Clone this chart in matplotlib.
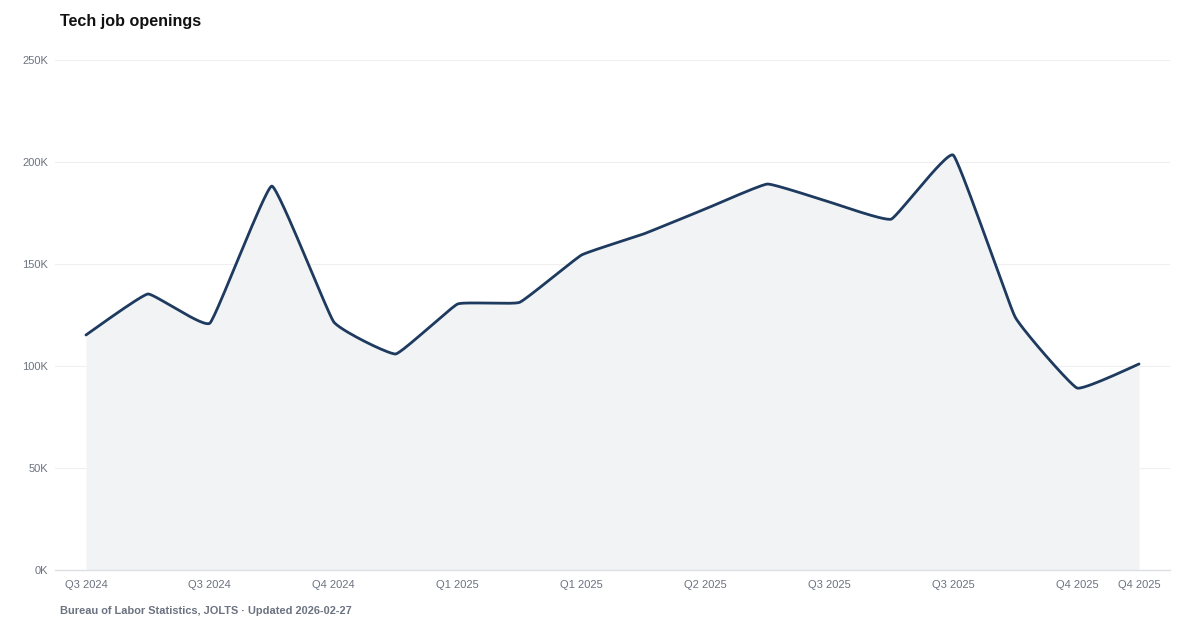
import numpy as np
import matplotlib
matplotlib.use("Agg")
import matplotlib.pyplot as plt

plt.rcParams['font.family'] = ['Liberation Sans', 'DejaVu Sans']

months = ["Jul 2024", "Aug 2024", "Sep 2024", "Oct 2024", "Nov 2024", "Dec 2024",
          "Jan 2025", "Feb 2025", "Mar 2025", "Apr 2025", "May 2025", "Jun 2025",
          "Jul 2025", "Aug 2025", "Sep 2025", "Oct 2025", "Nov 2025", "Dec 2025"]
openings = [115.2, 135.3, 121.0, 188.2, 121.6, 105.9, 130.4, 131.2, 154.4, 164.7,
            177.0, 189.2, 180.4, 172.0, 203.4, 124.0, 89.2, 101.0]  # thousands
tick_idx = [0, 2, 4, 6, 8, 10, 12, 14, 16, 17]
tick_labels = ["Q3 2024", "Q3 2024", "Q4 2024", "Q1 2025", "Q1 2025", "Q2 2025",
               "Q3 2025", "Q3 2025", "Q4 2025", "Q4 2025"]
yticks = [0, 50, 100, 150, 200, 250]


def cardinal(x, y, k=0.05, n=30):
    """Bezier spline through the points with low tension (slightly rounded corners)."""
    P = np.column_stack([np.asarray(x, float), np.asarray(y, float)])
    N = len(P)
    T = np.zeros_like(P)
    for i in range(N):
        a = P[max(i - 1, 0)]
        b = P[min(i + 1, N - 1)]
        T[i] = k * (b - a)
    xs, ys = [], []
    for i in range(N - 1):
        t = np.linspace(0, 1, n, endpoint=(i == N - 2))[:, None]
        p0 = P[i]; p1 = P[i] + T[i]; p2 = P[i + 1] - T[i + 1]; p3 = P[i + 1]
        B = (1-t)**3*p0 + 3*(1-t)**2*t*p1 + 3*(1-t)*t**2*p2 + t**3*p3
        xs.append(B[:, 0]); ys.append(B[:, 1])
    return np.concatenate(xs), np.concatenate(ys)


fig = plt.figure(figsize=(12, 6.3), dpi=100)
ax = fig.add_axes([55/1200, 60/630, 1115/1200, 510/630])

x = np.arange(len(openings))
sx, sy = cardinal(x, openings)
ax.fill_between(sx, 0, sy, color="#f1f3f5", lw=0, zorder=1)
ax.plot(sx, sy, color="#1e3a5f", lw=2.0, zorder=3, solid_capstyle='round', solid_joinstyle='round')

ax.set_xlim(-0.5, 17.5)
ax.set_ylim(0, 250)
ax.set_yticks(yticks)
ax.set_yticklabels([f"{v}K" for v in yticks])
ax.set_xticks(tick_idx)
ax.set_xticklabels(tick_labels)
ax.tick_params(axis='both', length=0, labelsize=8.0, labelcolor="#6b7280")
ax.tick_params(axis='x', pad=7)
ax.tick_params(axis='y', pad=5)
ax.grid(axis='y', color="#efefef", lw=0.8, zorder=0)
ax.set_axisbelow(True)
for sp in ["top", "right", "left"]:
    ax.spines[sp].set_visible(False)
ax.spines["bottom"].set_color("#dcdfe3")
ax.spines["bottom"].set_linewidth(1.0)

fig.text(60/1200, 1 - 21.5/630, "Tech job openings", fontsize=11.6, fontweight='bold',
         color="#111111", va='center', ha='left')
fig.text(60/1200, 1 - 611.5/630, "Bureau of Labor Statistics, JOLTS · Updated 2026-02-27",
         fontsize=7.9, fontweight='bold', color="#6b7280", va='center', ha='left')

fig.savefig("out.png", dpi=100, facecolor="white")
